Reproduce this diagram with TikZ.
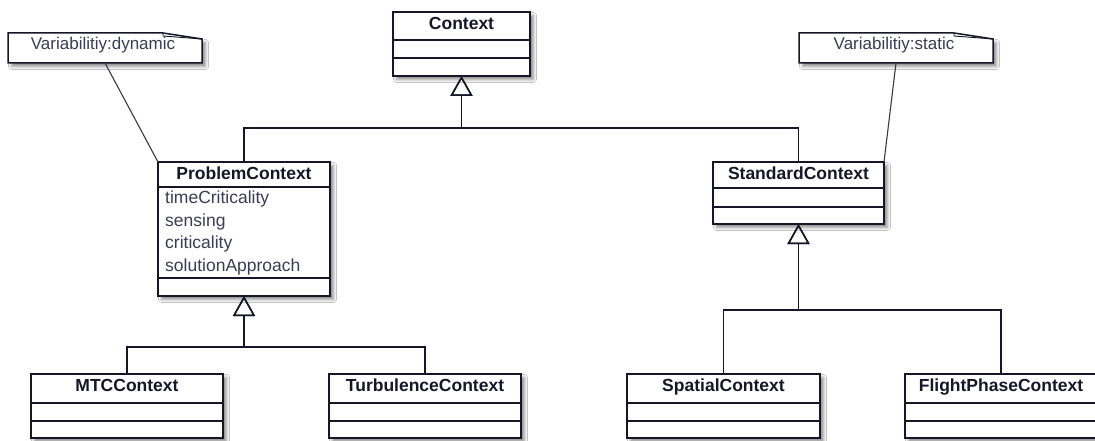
\documentclass[tikz,border=0pt]{standalone}
\usepackage{fontspec}
\setmainfont{Liberation Sans}
\usetikzlibrary{arrows.meta,calc,shadows.blur}
\definecolor{ink}{RGB}{22,22,40}
\definecolor{softink}{RGB}{60,60,85}
\tikzset{
  softshadow/.style={blur shadow={shadow xshift=3.5pt, shadow yshift=-3.5pt,
      shadow blur radius=3pt, shadow opacity=45}},
  classbox/.style={draw=ink, line width=1.6pt, fill=white, outer sep=0pt,
      inner sep=0pt, softshadow},
  seprule/.style={draw=ink, line width=1.4pt},
  classname/.style={font=\fontsize{17.5}{20}\selectfont\bfseries, text=ink,
      inner sep=0pt, anchor=base},
  attr/.style={font=\fontsize{17.5}{20}\selectfont, text=softink,
      inner sep=0pt, anchor=base west},
  gen/.style={draw=ink, line width=1.5pt,
      -{Triangle[open, width=22pt, length=20pt, line width=1.5pt]}},
  notebox/.style={inner sep=0pt, outer sep=0pt, minimum width=194pt,
      minimum height=30pt},
  noteline/.style={draw=ink, line width=1.5pt, fill=white, softshadow},
  notefold/.style={draw=ink, line width=0.9pt},
  notetext/.style={font=\fontsize{17}{20}\selectfont, text=softink,
      inner sep=0pt, anchor=base},
  notelink/.style={draw=ink!85, line width=1.1pt}
}
% \umlclass{name}{left}{top}{width}{height}{rule 1}{rule 2}{class name}
\newcommand{\umlclass}[8]{%
  \node[classbox, minimum width=#4, minimum height=#5, anchor=north west]
    (#1) at (#2,#3) {};
  \draw[seprule] ($(#1.north west)+(0,#6)$) -- ($(#1.north east)+(0,#6)$);
  \draw[seprule] ($(#1.north west)+(0,#7)$) -- ($(#1.north east)+(0,#7)$);
  \node[classname] (#1-name) at ($(#1.north)+(0,17.5)$) {#8};
}
% \umlnote{name}{left}{top}{text}
\newcommand{\umlnote}[4]{%
  \node[notebox, anchor=north west] (#1) at (#2,#3) {};
  \draw[noteline] (#1.north west) -- ($(#1.north east)+(-39,0)$)
    -- ($(#1.north east)+(0,6)$) -- (#1.south east) -- (#1.south west) -- cycle;
  \draw[notefold] ($(#1.north east)+(-39,0)$) -- ++(0,3)
    -- ($(#1.north east)+(0,6)$);
  \node[notetext] (#1-text) at ($(#1.north)+(-2,17)$) {#4};
}
\begin{document}
\begin{tikzpicture}[x=1pt, y=-1pt]
  \useasboundingbox[fill=white] (0,0) rectangle (1095,441);

  % class boxes
  \umlclass{ctx}{393}{12}{137}{64}{28}{46}{Context}
  \umlclass{pc}{158}{162}{172}{134}{25}{116}{ProblemContext}
  \umlclass{sc}{713}{162}{171}{62}{26}{45}{StandardContext}
  \umlclass{mtc}{31}{374}{192}{64}{29}{47}{MTCContext}
  \umlclass{tc}{329}{374}{192}{64}{29}{47}{TurbulenceContext}
  \umlclass{spc}{627}{374}{193}{64}{29}{47}{SpatialContext}
  \umlclass{fpc}{905}{374}{192}{64}{29}{47}{FlightPhaseContext}

  % attributes of ProblemContext
  \node[attr] (pc-a1) at (165,204)   {timeCriticality};
  \node[attr] (pc-a2) at (165,226.5) {sensing};
  \node[attr] (pc-a3) at (165,248.5) {criticality};
  \node[attr] (pc-a4) at (165,271)   {solutionApproach};

  % notes
  \umlnote{dyn}{8}{33}{Variabilitiy:dynamic}
  \umlnote{stat}{799}{33}{Variabilitiy:static}
  \draw[notelink] (dyn.south) -- (pc.north west);
  \draw[notelink] (stat.south) -- (sc.north east);

  % generalizations
  \draw[gen] (pc.north) -- ++(0,-34) -| (ctx.south);
  \draw[gen] (sc.north) -- ++(0,-34) -| (ctx.south);
  \draw[gen] (mtc.north) -- ++(0,-27) -| (pc.south);
  \draw[gen] (tc.north) -- ++(0,-27) -| (pc.south);
  \draw[gen] (spc.north) -- ++(0,-64) -| (sc.south);
  \draw[gen] (fpc.north) -- ++(0,-64) -| (sc.south);
\end{tikzpicture}
\end{document}
